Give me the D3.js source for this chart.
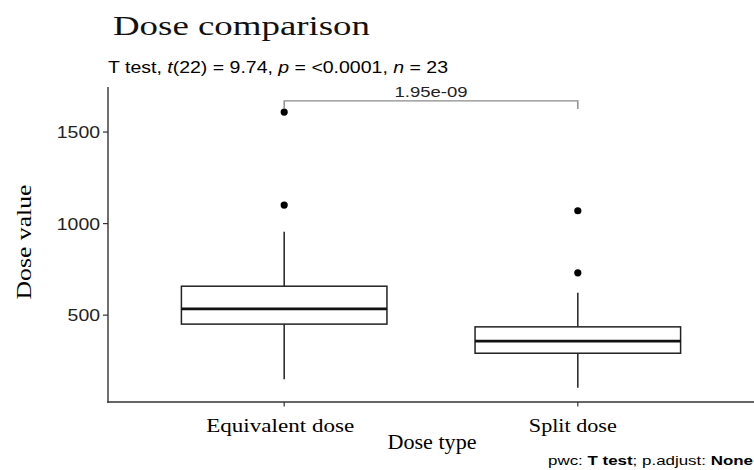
<!DOCTYPE html>
<html>
<head>
<meta charset="utf-8">
<script src="https://cdn.jsdelivr.net/npm/d3@7"></script>
<style>
  html, body { margin: 0; padding: 0; background: #fff; }
  svg { display: block; }
</style>
</head>
<body>
<svg id="chart" width="754" height="470"></svg>
<script>
// ---- data ----
const categories = ["Equivalent dose", "Split dose"];
const q1Values = [451, 292];
const medianValues = [534, 358];
const q3Values = [658, 436];
const whiskerLow = [150, 103];
const whiskerHigh = [955, 622];
const outliers = [[1101, 1609], [731, 1070]];
const yTicks = [500, 1000, 1500];
const bracketValue = 1670;
const bracketLabel = "1.95e-09";
const titleText = "Dose comparison";
const xTitle = "Dose type";
const yTitle = "Dose value";

// ---- layout ----
const panel = { left: 108, right: 754, top: 87, bottom: 402 };
const svg = d3.select("#chart");

const x = d3.scalePoint().domain(categories).range([panel.left, panel.right]).padding(0.6);
const y = d3.scaleLinear().domain([25.6, 1746]).range([panel.bottom, panel.top]);
const boxW = x.step() * 0.7;

const serif = "'Liberation Serif', 'Times New Roman', serif";
const sans = "'Liberation Sans', Arial, sans-serif";

function stretchedText(g, txt, x0, y0, len, size, family, opts = {}) {
  return g.append("text")
    .attr("x", x0).attr("y", y0)
    .attr("font-family", family)
    .attr("font-size", size)
    .attr("fill", opts.fill || "#000")
    .attr("textLength", len)
    .attr("lengthAdjust", "spacingAndGlyphs")
    .text(txt);
}

// Title
stretchedText(svg, titleText, 113, 35, 257, 26.5, serif, { fill: "#111" });

// Subtitle with italic parts
const sub = svg.append("text")
  .attr("x", 108).attr("y", 73)
  .attr("font-family", sans).attr("font-size", 16.5)
  .attr("textLength", 340).attr("lengthAdjust", "spacingAndGlyphs");
[["T test, ", false], ["t", true], ["(22) = 9.74, ", false], ["p", true],
 [" = <0.0001, ", false], ["n", true], [" = 23", false]].forEach(([s, it]) => {
  sub.append("tspan").attr("font-style", it ? "italic" : "normal").text(s);
});

// Boxes
const g = svg.append("g");
categories.forEach((c, i) => {
  const cx = x(c);
  g.append("line").attr("x1", cx).attr("x2", cx)
    .attr("y1", y(q3Values[i])).attr("y2", y(whiskerHigh[i]))
    .attr("stroke", "#222").attr("stroke-width", 1.5);
  g.append("line").attr("x1", cx).attr("x2", cx)
    .attr("y1", y(q1Values[i])).attr("y2", y(whiskerLow[i]))
    .attr("stroke", "#222").attr("stroke-width", 1.5);
  g.append("rect")
    .attr("x", cx - boxW / 2).attr("width", boxW)
    .attr("y", y(q3Values[i])).attr("height", y(q1Values[i]) - y(q3Values[i]))
    .attr("fill", "#fff").attr("stroke", "#222").attr("stroke-width", 1.5);
  g.append("line").attr("x1", cx - boxW / 2).attr("x2", cx + boxW / 2)
    .attr("y1", y(medianValues[i])).attr("y2", y(medianValues[i]))
    .attr("stroke", "#111").attr("stroke-width", 2.8);
  outliers[i].forEach(v => {
    g.append("circle").attr("cx", cx).attr("cy", y(v)).attr("r", 3.6).attr("fill", "#000");
  });
});

// Axes
const axisColor = "#333";
svg.append("line").attr("x1", panel.left).attr("x2", panel.left)
  .attr("y1", panel.top).attr("y2", panel.bottom + 0.7)
  .attr("stroke", axisColor).attr("stroke-width", 1.4);
svg.append("line").attr("x1", panel.left - 0.7).attr("x2", panel.right)
  .attr("y1", panel.bottom).attr("y2", panel.bottom)
  .attr("stroke", axisColor).attr("stroke-width", 1.4);

// y ticks
yTicks.forEach(v => {
  svg.append("line").attr("x1", panel.left - 5).attr("x2", panel.left)
    .attr("y1", y(v)).attr("y2", y(v)).attr("stroke", axisColor).attr("stroke-width", 1.2);
  const label = String(v);
  const len = label.length * 10.8;
  stretchedText(svg, label, 100 - len, y(v) + 6, len, 16.5, sans, { fill: "#222" });
});

// x ticks
categories.forEach(c => {
  svg.append("line").attr("x1", x(c)).attr("x2", x(c))
    .attr("y1", panel.bottom).attr("y2", panel.bottom + 4.5)
    .attr("stroke", axisColor).attr("stroke-width", 1.2);
});
const xLabelLens = [148, 88];
const xLabelOffsets = [-4, -5];
categories.forEach((c, i) => {
  const cx = x(c) + xLabelOffsets[i];
  stretchedText(svg, c, cx - xLabelLens[i] / 2, 432, xLabelLens[i], 19, serif);
});

// axis titles
stretchedText(svg, xTitle, 432 - 44.5, 449, 89, 20, serif);
svg.append("text")
  .attr("transform", "translate(31, 242) rotate(-90)")
  .attr("x", -57.5).attr("y", 0)
  .attr("font-family", serif).attr("font-size", 22)
  .attr("textLength", 115).attr("lengthAdjust", "spacingAndGlyphs")
  .text(yTitle);

// bracket
const bx1 = x(categories[0]), bx2 = x(categories[1]), by = y(bracketValue);
svg.append("path")
  .attr("d", `M${bx1},${by + 8}V${by}H${bx2}V${by + 8}`)
  .attr("fill", "none").attr("stroke", "#8a8a8a").attr("stroke-width", 1.4);
stretchedText(svg, bracketLabel, (bx1 + bx2) / 2 - 36.5, by - 4, 73, 14.5, sans, { fill: "#222" });

// caption
const cap = svg.append("text")
  .attr("x", 548).attr("y", 465)
  .attr("font-family", sans).attr("font-size", 12.5)
  .attr("textLength", 205).attr("lengthAdjust", "spacingAndGlyphs");
[["pwc: ", false], ["T test", true], ["; p.adjust: ", false], ["None", true]].forEach(([s, b]) => {
  cap.append("tspan").attr("font-weight", b ? "bold" : "normal").text(s);
});
</script>
</body>
</html>
